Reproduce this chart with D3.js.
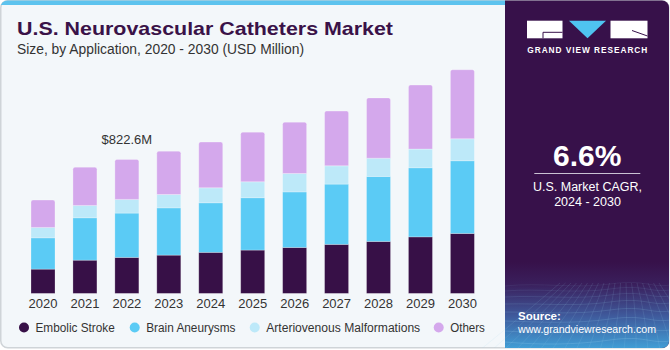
<!DOCTYPE html>
<html><head><meta charset="utf-8">
<script src="https://cdn.jsdelivr.net/npm/d3@7"></script>
<style>html,body{margin:0;padding:0;background:#fff;}svg{display:block;font-family:"Liberation Sans",Arial,sans-serif;}</style>
</head><body>
<svg id="c" width="670" height="350"></svg>
<script>
const years = ["2020","2021","2022","2023","2024","2025","2026","2027","2028","2029","2030"];
const embolicStroke = [149,204,221,235,252,266,282,301,319,347,368];
const brainAneurysms = [192,260,272,290,304,321,341,370,399,424,446];
const avMalformations = [64,76,84,82,92,98,113,112,112,115,135];
const others = [168,235,245.6,266,281,305,315,336,370,393,424];
const seriesNames = ["Embolic Stroke","Brain Aneurysms","Arteriovenous Malformations","Others"];
const seriesColors = ["#371047","#5BCBF5","#BDE9F9","#D4A8EC"];
const annotYear = "2022", annotText = "$822.6M";

const svg = d3.select("#c");
const defs = svg.append("defs");
defs.append("clipPath").attr("id","card").append("rect")
  .attr("x",0.5).attr("y",0.5).attr("width",668.5).attr("height",347.5).attr("rx",7);
const g1 = defs.append("linearGradient").attr("id","pg").attr("x1",0).attr("y1",0).attr("x2",0).attr("y2",1);
g1.append("stop").attr("offset","0").attr("stop-color","#37114A");
g1.append("stop").attr("offset","0.25").attr("stop-color","#3a1f5c");
g1.append("stop").attr("offset","0.6").attr("stop-color","#3f5a9c");
g1.append("stop").attr("offset","1").attr("stop-color","#41a6dc");

// card
svg.append("rect").attr("x",0.75).attr("y",0.75).attr("width",668).attr("height",347).attr("rx",7)
  .attr("fill","#F3F7FA").attr("stroke","#cfd4d8").attr("stroke-width",1.5);
const card = svg.append("g").attr("clip-path","url(#card)");
card.append("rect").attr("x",0).attr("y",0).attr("width",505).attr("height",5).attr("fill","#5DC3EE");
card.append("rect").attr("x",505).attr("y",0).attr("width",170).attr("height",350).attr("fill","#37114A");
card.append("rect").attr("x",505).attr("y",262).attr("width",170).attr("height",90).attr("fill","url(#pg)");
// mesh decoration
const mesh = card.append("g").attr("stroke","#9fd6f3").attr("stroke-width",0.5).attr("fill","none");
const rows = [286,291,297,304,312,321,331,342];
rows.forEach((y,i)=>{
  mesh.append("path").attr("stroke-opacity",0.15+i*0.04)
    .attr("d",`M505,${y} C540,${y-4+i} 575,${y+3} 610,${y-2} S650,${y+2} 670,${y-1}`);
});
for(let k=0;k<=18;k++){
  const xb = 480 + k*12, xt = 560 + k*5.5;
  mesh.append("path").attr("stroke-opacity",0.25).attr("d",`M${xt},283 Q${(xt+xb)/2+3},315 ${xb},350`);
}

// title
svg.append("text").attr("x",17).attr("y",35).attr("font-size",18.5).attr("font-weight","bold")
  .attr("fill","#3A1248").attr("textLength",376).attr("lengthAdjust","spacingAndGlyphs")
  .text("U.S. Neurovascular Catheters Market");
svg.append("text").attr("x",17).attr("y",54).attr("font-size",14).attr("fill","#333")
  .attr("textLength",287).attr("lengthAdjust","spacingAndGlyphs")
  .text("Size, by Application, 2020 - 2030 (USD Million)");

// scales
const x = d3.scaleBand().domain(years).range([31,474.4]).paddingInner(0.428).paddingOuter(0);
const y = d3.scaleLinear().domain([0,1000]).range([293.4,130.5]);
const rows2 = years.map((yr,i)=>({year:yr, "Embolic Stroke":embolicStroke[i], "Brain Aneurysms":brainAneurysms[i],
  "Arteriovenous Malformations":avMalformations[i], "Others":others[i]}));
const stack = d3.stack().keys(seriesNames)(rows2);

const bars = svg.append("g");
stack.forEach((s,si)=>{
  const gg = bars.append("g").attr("fill",seriesColors[si]);
  s.forEach(d=>{
    const x0 = x(d.data.year), w = x.bandwidth(), yt = y(d[1]), yb = y(d[0]);
    if(si === seriesNames.length-1){
      const r = 2;
      gg.append("path").attr("d",`M${x0},${yb} L${x0},${yt+r} Q${x0},${yt} ${x0+r},${yt} L${x0+w-r},${yt} Q${x0+w},${yt} ${x0+w},${yt+r} L${x0+w},${yb} Z`)
        .attr("stroke","#ffffff").attr("stroke-opacity",0.35).attr("stroke-width",0.8);
    } else {
      gg.append("rect").attr("x",x0).attr("y",yt).attr("width",w).attr("height",yb-yt)
        .attr("stroke","#ffffff").attr("stroke-opacity",0.3).attr("stroke-width",0.8);
    }
  });
});

// axis
const ax = svg.append("g").attr("transform","translate(0,293.4)")
  .call(d3.axisBottom(x).tickSize(0).tickPadding(5.5));
ax.select(".domain").remove();
ax.selectAll("text").attr("font-size",13).attr("fill","#333").attr("font-family","'Liberation Sans',Arial,sans-serif");

// annotation
const ai = years.indexOf(annotYear);
const tot = embolicStroke[ai]+brainAneurysms[ai]+avMalformations[ai]+others[ai];
svg.append("text").attr("x",x(annotYear)+x.bandwidth()/2).attr("y",y(tot)-15.5)
  .attr("text-anchor","middle").attr("font-size",13).attr("fill","#333").text(annotText);

// legend
const legX = [24,134.7,254.7,438.7];
const legW = [79.3,89.3,154,34.7];
const leg = svg.append("g");
seriesNames.forEach((n,i)=>{
  leg.append("circle").attr("cx",legX[i]).attr("cy",327.5).attr("r",5).attr("fill",seriesColors[i]);
  leg.append("text").attr("x",legX[i]+11.5).attr("y",332).attr("font-size",12.5).attr("fill","#333")
    .attr("textLength",legW[i]).attr("lengthAdjust","spacingAndGlyphs").text(n);
});

// logo
const lg = svg.append("g");
lg.append("rect").attr("x",527).attr("y",20.7).attr("width",35.5).attr("height",17.6).attr("fill","#fff");
lg.append("path").attr("d","M562.5,32.3 L543,32.3 L543,38.3").attr("stroke","#37114A").attr("stroke-width",1).attr("fill","none");
lg.append("path").attr("d","M569,20.7 L606,20.7 L587.5,38.3 Z").attr("fill","#4FC3F0");
lg.append("rect").attr("x",610.5).attr("y",20.7).attr("width",37).attr("height",17.6).attr("fill","#fff");
lg.append("path").attr("d","M632,30.5 L647.5,36").attr("stroke","#37114A").attr("stroke-width",1).attr("fill","none");
lg.append("text").attr("x",587.3).attr("y",53.3).attr("text-anchor","middle").attr("font-size",8.3)
  .attr("font-weight","bold").attr("fill","#fff").attr("textLength",120).attr("lengthAdjust","spacing")
  .text("GRAND VIEW RESEARCH");

// CAGR
svg.append("text").attr("x",587.3).attr("y",166).attr("text-anchor","middle").attr("font-size",30)
  .attr("font-weight","bold").attr("fill","#fff").text("6.6%");
svg.append("line").attr("x1",534.3).attr("x2",640.3).attr("y1",173.5).attr("y2",173.5)
  .attr("stroke","#c9c2d3").attr("stroke-width",1.2);
svg.append("text").attr("x",587.5).attr("y",190.5).attr("text-anchor","middle").attr("font-size",12.5)
  .attr("fill","#fff").text("U.S. Market CAGR,");
svg.append("text").attr("x",587.5).attr("y",205.5).attr("text-anchor","middle").attr("font-size",12.5)
  .attr("fill","#fff").text("2024 - 2030");

// source
svg.append("text").attr("x",518).attr("y",319.5).attr("font-size",11.5).attr("font-weight","bold")
  .attr("fill","#fff").text("Source:");
svg.append("text").attr("x",518).attr("y",332.5).attr("font-size",11.5).attr("fill","#fff")
  .attr("textLength",138).attr("lengthAdjust","spacingAndGlyphs").text("www.grandviewresearch.com");
</script>
</body></html>
